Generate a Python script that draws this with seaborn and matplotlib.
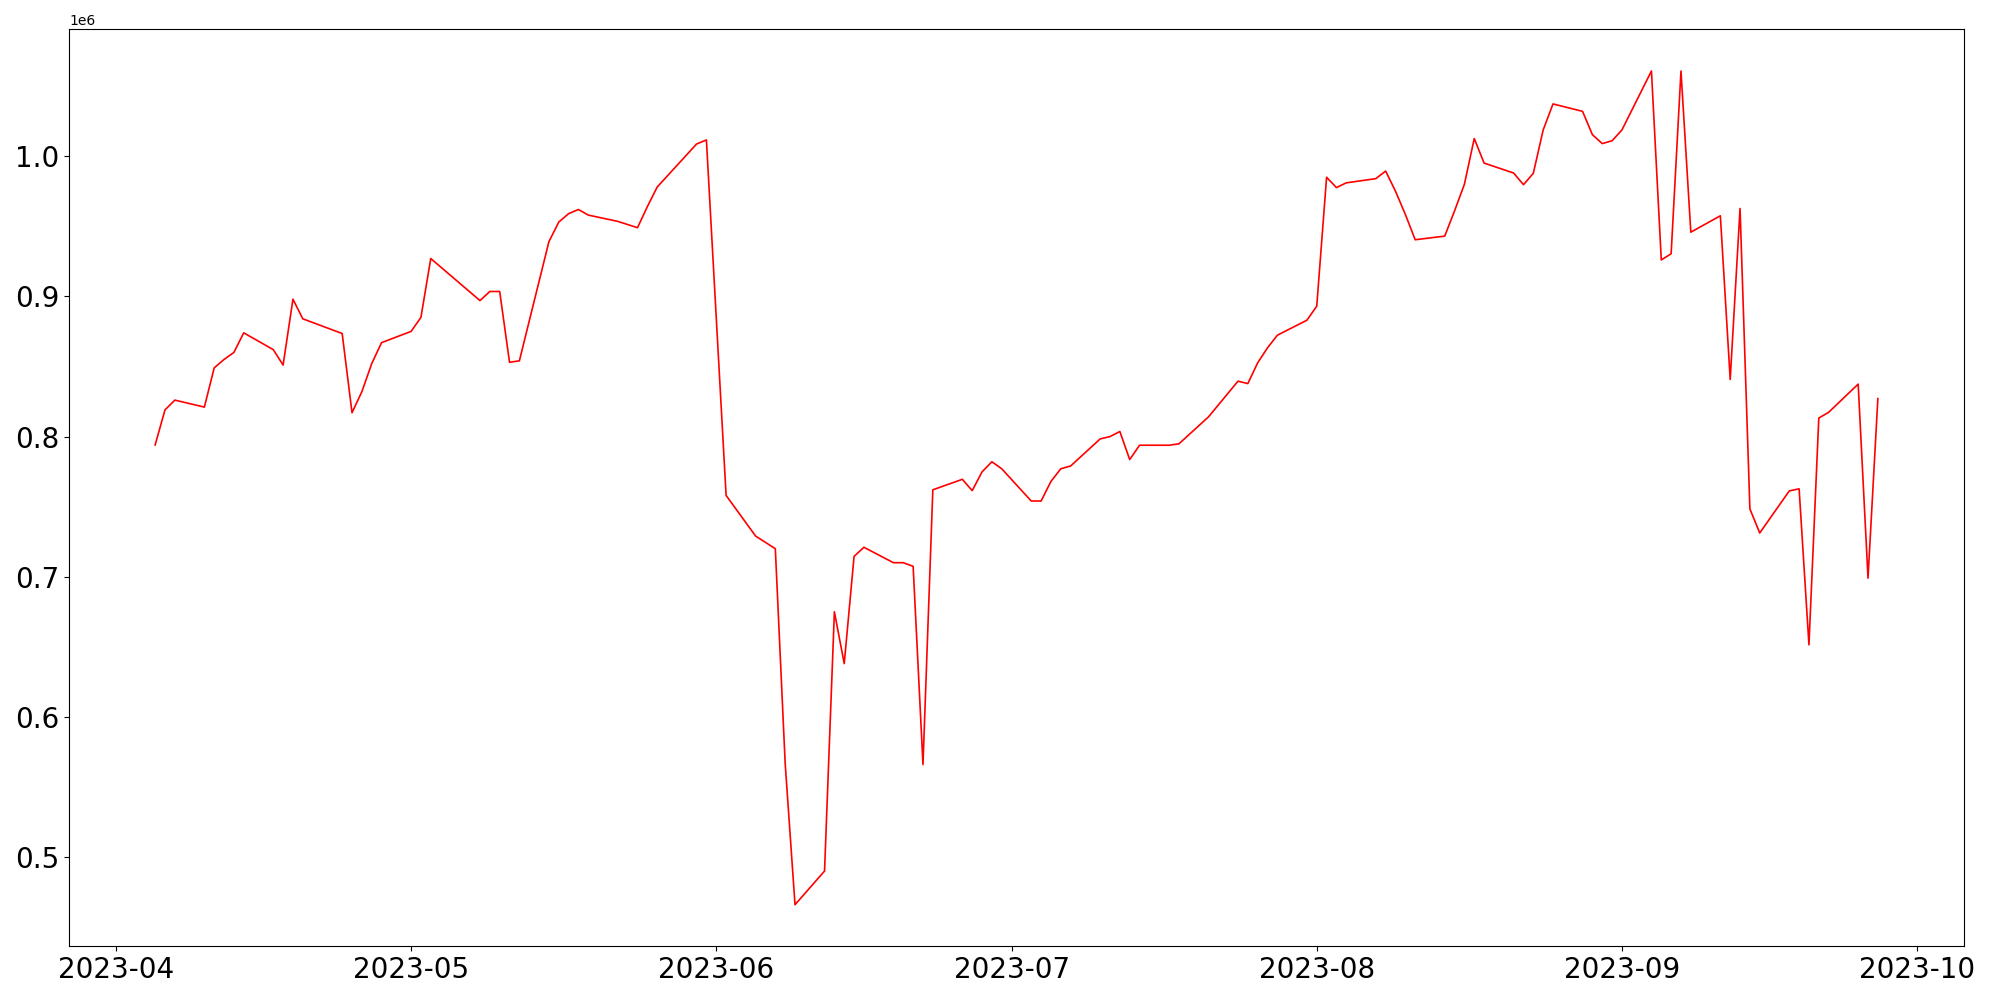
import matplotlib
matplotlib.use("Agg")
import matplotlib.pyplot as plt
import pandas as pd
import seaborn as sns

# observation dates (gaps = missing days)
dates = [
    "2023-04-05", "2023-04-06", "2023-04-07", "2023-04-10", "2023-04-11",
    "2023-04-12", "2023-04-13", "2023-04-14", "2023-04-17", "2023-04-18",
    "2023-04-19", "2023-04-20", "2023-04-24", "2023-04-25", "2023-04-26",
    "2023-04-27", "2023-04-28", "2023-05-01", "2023-05-02", "2023-05-03",
    "2023-05-08", "2023-05-09", "2023-05-10", "2023-05-11", "2023-05-12",
    "2023-05-15", "2023-05-16", "2023-05-17", "2023-05-18", "2023-05-19",
    "2023-05-22", "2023-05-24", "2023-05-25", "2023-05-26", "2023-05-30",
    "2023-05-31", "2023-06-02", "2023-06-05", "2023-06-07", "2023-06-08",
    "2023-06-09", "2023-06-12", "2023-06-13", "2023-06-14", "2023-06-15",
    "2023-06-16", "2023-06-19", "2023-06-20", "2023-06-21", "2023-06-22",
    "2023-06-23", "2023-06-26", "2023-06-27", "2023-06-28", "2023-06-29",
    "2023-06-30", "2023-07-03", "2023-07-04", "2023-07-05", "2023-07-06",
    "2023-07-07", "2023-07-10", "2023-07-11", "2023-07-12", "2023-07-13",
    "2023-07-14", "2023-07-17", "2023-07-18", "2023-07-21", "2023-07-24",
    "2023-07-25", "2023-07-26", "2023-07-27", "2023-07-28", "2023-07-31",
    "2023-08-01", "2023-08-02", "2023-08-03", "2023-08-04", "2023-08-07",
    "2023-08-08", "2023-08-09", "2023-08-10", "2023-08-11", "2023-08-14",
    "2023-08-15", "2023-08-16", "2023-08-17", "2023-08-18", "2023-08-21",
    "2023-08-22", "2023-08-23", "2023-08-24", "2023-08-25", "2023-08-28",
    "2023-08-29", "2023-08-30", "2023-08-31", "2023-09-01", "2023-09-04",
    "2023-09-05", "2023-09-06", "2023-09-07", "2023-09-08", "2023-09-11",
    "2023-09-12", "2023-09-13", "2023-09-14", "2023-09-15", "2023-09-18",
    "2023-09-19", "2023-09-20", "2023-09-21", "2023-09-22", "2023-09-25",
    "2023-09-26", "2023-09-27",
]

# values in millions
values_mn = [
    0.794, 0.819, 0.826, 0.821, 0.849,
    0.855, 0.860, 0.874, 0.862, 0.851,
    0.898, 0.884, 0.8735, 0.817, 0.832,
    0.852, 0.867, 0.875, 0.885, 0.927,
    0.897, 0.9035, 0.9035, 0.853, 0.854,
    0.939, 0.953, 0.959, 0.962, 0.958,
    0.9535, 0.949, 0.964, 0.978, 1.0087,
    1.0116, 0.758, 0.729, 0.720, 0.567,
    0.466, 0.490, 0.675, 0.638, 0.7145,
    0.721, 0.710, 0.710, 0.7074, 0.566,
    0.762, 0.7695, 0.7614, 0.7748, 0.782,
    0.777, 0.754, 0.754, 0.768, 0.777,
    0.779, 0.7983, 0.800, 0.8036, 0.7836,
    0.7938, 0.7938, 0.7948, 0.814, 0.8395,
    0.8378, 0.8526, 0.8633, 0.8723, 0.883,
    0.893, 0.985, 0.9776, 0.981, 0.984,
    0.9894, 0.975, 0.9585, 0.9404, 0.943,
    0.961, 0.980, 1.0126, 0.9951, 0.988,
    0.9797, 0.9878, 1.0187, 1.0373, 1.032,
    1.0154, 1.009, 1.011, 1.0187, 1.0608,
    0.926, 0.9304, 1.0608, 0.9458, 0.9575,
    0.8407, 0.9627, 0.7484, 0.7312, 0.7612,
    0.7627, 0.6514, 0.8132, 0.8173, 0.8374,
    0.699, 0.8271,
]

df = pd.DataFrame({
    "date": pd.to_datetime(dates),
    "value": [v * 1e6 for v in values_mn],
})

# figure
fig, ax = plt.subplots(figsize=(20, 10), dpi=100)
fig.subplots_adjust(left=0.0345, right=0.982, bottom=0.0536, top=0.9707)

sns.lineplot(data=df, x="date", y="value", color="red", linewidth=1.2, ax=ax)

ax.set_xlabel("")
ax.set_ylabel("")
ax.tick_params(axis="both", labelsize=20)

plt.savefig("out.png", dpi=100)
